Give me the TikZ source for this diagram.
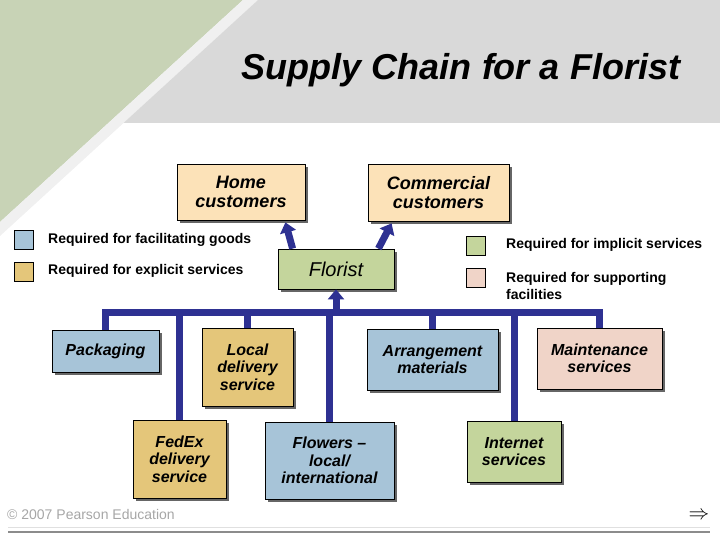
\documentclass[tikz,border=0pt]{standalone}
\usepackage{fontspec}
\setmainfont{Liberation Sans}
\usetikzlibrary{arrows.meta,shadows}

\definecolor{busblue}{RGB}{46,49,146}
\definecolor{peach}{RGB}{252,226,184}
\definecolor{leaf}{RGB}{196,213,156}
\definecolor{sky}{RGB}{167,196,216}
\definecolor{sand}{RGB}{228,198,122}
\definecolor{blush}{RGB}{240,212,200}
\definecolor{banner}{RGB}{217,217,217}
\definecolor{sage}{RGB}{200,211,182}

\begin{document}
\begin{tikzpicture}[x=1bp,y=-1bp,
  box/.style={draw=black,line width=0.8bp,align=center,inner sep=2bp,
    font=\bfseries\itshape\fontsize{16bp}{17.5bp}\selectfont,
    drop shadow={shadow xshift=3bp,shadow yshift=-3bp,fill=black!60,opacity=1}},
  topbox/.style={box,font=\bfseries\itshape\fontsize{18bp}{19.5bp}\selectfont},
  key/.style={draw=black,line width=0.6bp,minimum size=19bp,inner sep=0pt},
  keytext/.style={anchor=west,align=left,inner sep=0pt,
    font=\bfseries\fontsize{14bp}{17bp}\selectfont},
  bus/.style={busblue,line width=7bp},
  up/.style={bus,-{Triangle[width=16bp,length=10bp]}}]
  \useasboundingbox (0,0) rectangle (720,540);

  % background
  \fill[sage] (0,0) -- (243,0) -- (0,222) -- cycle;
  \fill[white!94!black] (243,0) -- (258,0) -- (0,236) -- (0,222) -- cycle;
  \fill[banner] (258,0) -- (720,0) -- (720,123) -- (123.5,123) -- cycle;

  \node[anchor=base,font=\bfseries\itshape\fontsize{36bp}{40bp}\selectfont]
    (title) at (461,80) {Supply Chain for a Florist};

  % boxes
  \node[topbox,fill=peach,minimum width=128bp,minimum height=56bp]
    (home) at (241,192) {Home\\customers};
  \node[topbox,fill=peach,minimum width=141bp,minimum height=57bp]
    (comm) at (438.5,192.5) {Commercial\\customers};
  \node[box,fill=leaf,minimum width=116bp,minimum height=40bp,
    font=\itshape\fontsize{20bp}{22bp}\selectfont]
    (florist) at (336,269) {Florist};

  \node[box,fill=sky,minimum width=107bp,minimum height=42bp]
    (pack) at (105.5,351) {Packaging};
  \node[box,fill=sand,minimum width=91bp,minimum height=78bp]
    (local) at (247.5,367) {Local\\delivery\\service};
  \node[box,fill=sand,minimum width=93bp,minimum height=78bp]
    (fedex) at (179.5,459) {FedEx\\delivery\\service};
  \node[box,fill=sky,minimum width=131bp,minimum height=61bp]
    (arr) at (432.5,359.5) {Arrangement\\materials};
  \node[box,fill=blush,minimum width=125bp,minimum height=61bp]
    (maint) at (599.5,358.5) {Maintenance\\services};
  \node[box,fill=sky,minimum width=129bp,minimum height=77bp]
    (flowers) at (329.5,460.5) {Flowers --\\local/\\international};
  \node[box,fill=leaf,minimum width=94bp,minimum height=61bp]
    (inet) at (514,451.5) {Internet\\services};

  % legend
  \node[key,fill=sky] (kfac) at (23.5,240) {};
  \node[keytext] (tfac) at (48,240) {Required for facilitating goods};
  \node[key,fill=sand] (kexp) at (23.5,271.5) {};
  \node[keytext] (texp) at (48,271) {Required for explicit services};
  \node[key,fill=leaf] (kimp) at (475.5,245.5) {};
  \node[keytext] (timp) at (506,245) {Required for implicit services};
  \node[key,fill=blush] (ksup) at (475.5,277.5) {};
  \node[keytext] (tsup) at (506,285.5) {Required for supporting\\facilities};

  % connectors
  \coordinate (bus) at (0,312);
  \draw[bus] (pack.north) -- (pack.north |- bus) -- (maint.north |- bus) -- (maint.north);
  \foreach \n in {local,fedex,flowers,arr,inet}
    \draw[bus] (\n.north |- bus) -- (\n.north);
  \draw[up] (florist.south |- bus) -- (florist.south);
  \draw[up] ([xshift=15bp]florist.north west) -- ([xshift=-20bp,yshift=-2bp]home.south east);
  \draw[up] ([xshift=-16bp]florist.north east) -- ([xshift=24bp,yshift=-2bp]comm.south west);

  % footer
  \node[anchor=west,inner sep=0pt,text=black!35,font=\fontsize{14bp}{16bp}\selectfont]
    (copy) at (7,514) {\textcopyright\ 2007 Pearson Education};
  \node[font=\fontsize{21bp}{21bp}\selectfont] (next) at (699,516) {$\Rightarrow$};
  \draw[black!12,line width=1bp] (8,527) -- (710,527);
  \draw[black!45,line width=2bp] (8,531.5) -- (710,531.5);
\end{tikzpicture}
\end{document}
